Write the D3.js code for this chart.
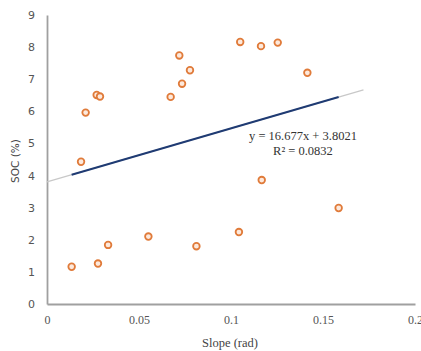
<!DOCTYPE html>
<html>
<head>
<meta charset="utf-8">
<script src="https://cdn.jsdelivr.net/npm/d3@7"></script>
<style>
html,body{margin:0;padding:0;background:#fff;}
svg{display:block;}
</style>
</head>
<body>
<svg id="chart" width="421" height="351"></svg>
<script>
const slopeVals = [0.0185,0.021,0.027,0.0288,0.0672,0.0719,0.0734,0.0777,0.105,0.1163,0.1254,0.1415,0.0134,0.0277,0.0332,0.0551,0.0812,0.1167,0.1043,0.1585];
const socVals   = [4.43,5.96,6.51,6.46,6.45,7.74,6.86,7.28,8.16,8.03,8.14,7.20,1.16,1.26,1.84,2.10,1.80,3.86,2.24,2.99];
const xTicks = [0,0.05,0.1,0.15,0.2];
const xTickLabels = ["0","0.05","0.1","0.15","0.2"];
const yTicks = [0,1,2,3,4,5,6,7,8,9];
const trendSlope = 16.677, trendIntercept = 3.8021;
const trendExtent = [0,0.172];
const eqLines = ["y = 16.677x + 3.8021","R\u00b2 = 0.0832"];
const xTitle = "Slope (rad)", yTitle = "SOC (%)";

const svg = d3.select("#chart");
const x = d3.scaleLinear().domain([0,0.2]).range([47,415]);
const y = d3.scaleLinear().domain([0,9]).range([304,15]);

// axes
const xAxis = d3.axisBottom(x).tickValues(xTicks).tickFormat((d,i)=>xTickLabels[i]).tickSize(0).tickPadding(11);
const gx = svg.append("g").attr("transform","translate(0,304)").call(xAxis);
gx.select(".domain").attr("stroke","#a0a0a0").attr("stroke-width",1.8);
gx.selectAll("text").attr("font-family","Liberation Serif, serif").attr("font-size",12).attr("fill","#555");

const yAxis = d3.axisLeft(y).tickValues(yTicks).tickSize(0).tickPadding(12);
const gy = svg.append("g").attr("transform","translate(47,0)").call(yAxis);
gy.select(".domain").attr("stroke","#a0a0a0").attr("stroke-width",1.8);
gy.selectAll("text").attr("font-family","DejaVu Sans, sans-serif").attr("font-size",11).attr("fill","#555");

// trendline: gray extended + dark blue over data range
const xmin = d3.min(slopeVals), xmax = d3.max(slopeVals);
const f = v => trendSlope*v + trendIntercept;
svg.append("line")
  .attr("x1",x(trendExtent[0])).attr("y1",y(f(trendExtent[0])))
  .attr("x2",x(trendExtent[1])).attr("y2",y(f(trendExtent[1])))
  .attr("stroke","#c8c8c8").attr("stroke-width",1.2);
svg.append("line")
  .attr("x1",x(xmin)).attr("y1",y(f(xmin)))
  .attr("x2",x(xmax)).attr("y2",y(f(xmax)))
  .attr("stroke","#1f3b73").attr("stroke-width",2);

// points
svg.append("g").selectAll("circle").data(slopeVals).join("circle")
  .attr("cx",(d)=>x(d)).attr("cy",(d,i)=>y(socVals[i]))
  .attr("r",3.3).attr("fill","#fde9dc").attr("stroke","#e07b3a").attr("stroke-width",1.8);

// equation
const eq = svg.append("text").attr("font-family","Liberation Serif, serif").attr("font-size",12.5).attr("fill","#333").attr("text-anchor","middle");
eq.append("tspan").attr("x",303).attr("y",140).text(eqLines[0]);
eq.append("tspan").attr("x",303).attr("y",155).text(eqLines[1]);

// titles
svg.append("text").attr("x",230).attr("y",347).attr("text-anchor","middle")
  .attr("font-family","Liberation Serif, serif").attr("font-size",12.5).attr("fill","#444").text(xTitle);
svg.append("text").attr("transform","translate(19,161) rotate(-90)").attr("text-anchor","middle")
  .attr("font-family","DejaVu Sans, sans-serif").attr("font-size",10.5).attr("fill","#444").text(yTitle);
</script>
</body>
</html>
